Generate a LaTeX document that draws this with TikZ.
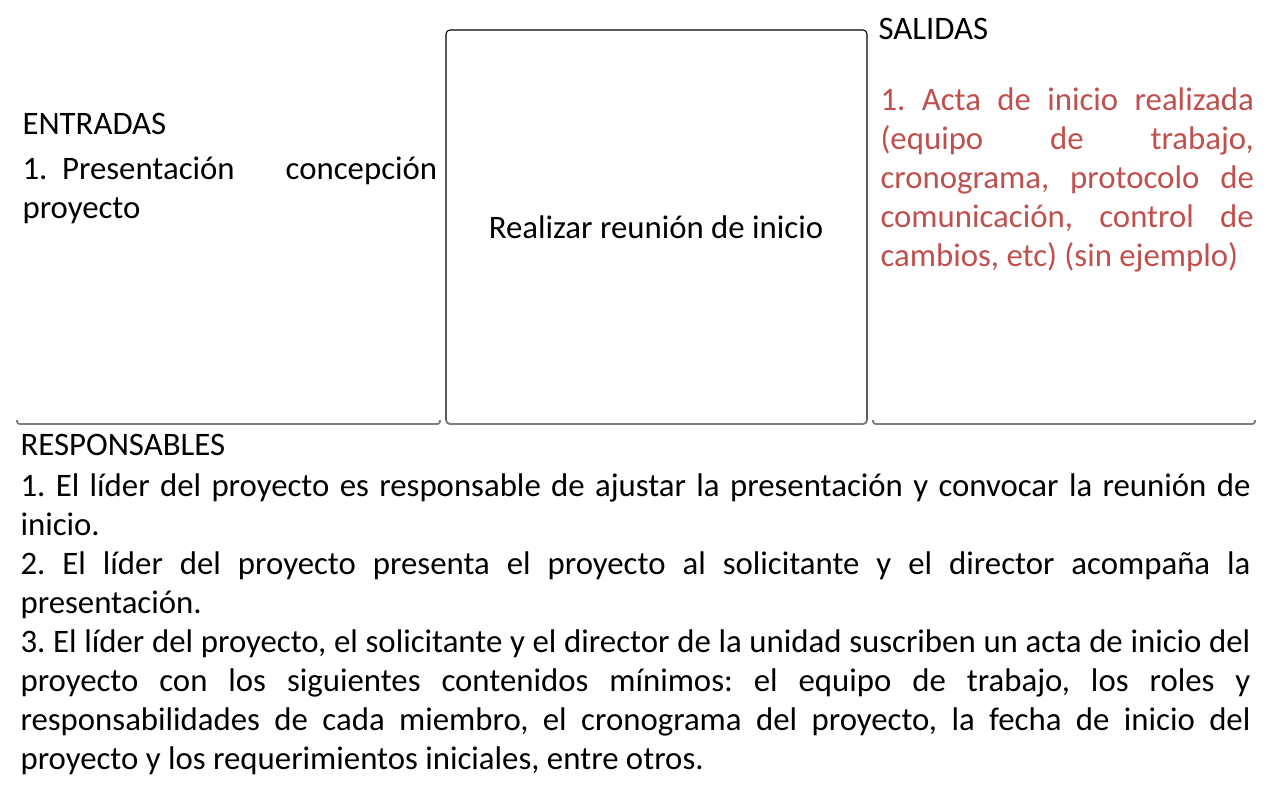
\documentclass[tikz,border=0pt]{standalone}
\usepackage{fontspec}
\setmainfont{Carlito}
\usepackage{tikz}
\usetikzlibrary{positioning}
\definecolor{salidared}{HTML}{C0504D}
\definecolor{boxgray}{HTML}{7F7F7F}

\begin{document}
\begin{tikzpicture}[x=0.75pt,y=-0.75pt,
  thick,
  label text/.style={inner sep=0pt,font=\fontsize{24.6}{29.25}\selectfont\frenchspacing},
  body text/.style={label text,align=justify,anchor=north west,
    execute at begin node={\hyphenpenalty=10000\tolerance=9999\emergencystretch=3em\strut}},
  base line/.style={draw=boxgray,line width=1.4pt,rounded corners=2pt}]

  \useasboundingbox (0,0) rectangle (1280,795);

  % columns
  \draw[base line] (17,420) -- (17,424) -- (440,424) -- (440,420);
  \draw[base line] (873,420) -- (873,424) -- (1255,424) -- (1255,420);
  \draw[line width=0.8pt,rounded corners=3pt] (446,30) rectangle (867,424);
  \draw[draw=boxgray,line width=1.4pt,rounded corners=3pt] (446,420) -- (446,424) -- (867,424) -- (867,420);

  \node[label text] (proceso) at (656,227) {Realizar reunión de inicio};

  \node[label text,anchor=base west] (entradas) at (22,135) {ENTRADAS};
  \node[body text,text width=311pt] (entradas list) at (22,151.7)
    {1.\kern11pt Presentación concepción\linebreak proyecto};

  \node[label text,anchor=base west] (salidas) at (878,40) {SALIDAS};
  \node[body text,text width=280pt,text=salidared] (salidas list) at (880,82.7)
    {1. Acta de inicio realizada\linebreak (equipo de trabajo,\linebreak cronograma, protocolo de\linebreak comunicación, control de\linebreak cambios, etc) (sin ejemplo)};

  \node[label text,anchor=base west] (responsables) at (20,455) {RESPONSABLES};
  \node[body text,text width=922.5pt] (responsables list) at (20,468.7)
    {1. El líder del proyecto es responsable de ajustar la presentación y convocar la reunión de\linebreak inicio.\par
     \strut 2. El líder del proyecto presenta el proyecto al solicitante y el director acompaña la\linebreak presentación.\par
     \strut 3. El líder del proyecto, el solicitante y el director de la unidad suscriben un acta de inicio del\linebreak proyecto con los siguientes contenidos mínimos: el equipo de trabajo, los roles y\linebreak responsabilidades de cada miembro, el cronograma del proyecto, la fecha de inicio del\linebreak proyecto y los requerimientos iniciales, entre otros.};

\end{tikzpicture}
\end{document}
